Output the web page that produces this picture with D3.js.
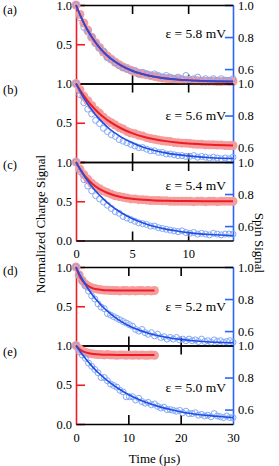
<!DOCTYPE html>
<html>
<head>
<meta charset="utf-8">
<script src="https://cdn.jsdelivr.net/npm/d3@7"></script>
<style>
  html, body { margin: 0; padding: 0; background: #fff; }
  svg { display: block; }
</style>
</head>
<body>
<svg id="chart" width="279" height="466"></svg>
<script>
// sample times (µs)
const timeShort = [0, 0.35, 0.7, 1.05, 1.4, 1.75, 2.1, 2.45, 2.8, 3.15, 3.5, 3.85, 4.2, 4.55, 4.9,
    5.25, 5.6, 5.95, 6.3, 6.65, 7.0, 7.35, 7.7, 8.05, 8.4, 8.75, 9.1, 9.45, 9.8, 10.15, 10.5,
    10.85, 11.2, 11.55, 11.9, 12.25, 12.6, 12.95, 13.3, 13.65, 14.0];
const timeLong = [0, 0.6, 1.2, 1.8, 2.4, 3.0, 3.6, 4.2, 4.8, 5.4, 6.0, 6.6, 7.2, 7.8, 8.4, 9.0,
    9.6, 10.2, 10.8, 11.4, 12.0, 12.6, 13.2, 13.8, 14.4, 15.0, 15.6, 16.2, 16.8, 17.4, 18.0,
    18.6, 19.2, 19.8, 20.4, 21.0, 21.6, 22.2, 22.8, 23.4, 24.0, 24.6, 25.2, 25.8, 26.4, 27.0,
    27.6, 28.2, 28.8, 29.4, 30.0];

// normalized charge signal (left axis)
const chargeA = [1.00, 0.88, 0.77, 0.68, 0.59, 0.52, 0.46, 0.40, 0.35, 0.31, 0.27, 0.24, 0.21, 0.19,
    0.17, 0.15, 0.13, 0.12, 0.11, 0.10, 0.09, 0.08, 0.07, 0.065, 0.06, 0.055, 0.05, 0.045, 0.04,
    0.04, 0.035, 0.035, 0.03, 0.03, 0.03, 0.03, 0.025, 0.025, 0.03, 0.025, 0.025];
const chargeB = [1.00, 0.92, 0.84, 0.78, 0.72, 0.66, 0.62, 0.57, 0.53, 0.50, 0.47, 0.44, 0.42, 0.39,
    0.37, 0.36, 0.34, 0.33, 0.31, 0.30, 0.29, 0.28, 0.27, 0.265, 0.26, 0.25, 0.245, 0.24, 0.24,
    0.235, 0.23, 0.225, 0.225, 0.22, 0.22, 0.22, 0.215, 0.215, 0.21, 0.21, 0.21];
const chargeC = [1.00, 0.91, 0.84, 0.78, 0.73, 0.69, 0.66, 0.63, 0.61, 0.59, 0.57, 0.56, 0.55, 0.54,
    0.53, 0.53, 0.52, 0.52, 0.515, 0.51, 0.51, 0.51, 0.505, 0.505, 0.50, 0.50, 0.50, 0.50, 0.50,
    0.50, 0.495, 0.50, 0.50, 0.495, 0.50, 0.50, 0.495, 0.50, 0.50, 0.50, 0.50];
const chargeD = [1.00, 0.90, 0.83, 0.78, 0.755, 0.735, 0.725, 0.715, 0.71, 0.705, 0.705, 0.70, 0.70,
    0.70, 0.695, 0.70, 0.70, 0.695, 0.70, 0.695, 0.70, 0.70, 0.695, 0.70, 0.695, 0.70];
const chargeE = [1.00, 0.96, 0.93, 0.915, 0.90, 0.895, 0.89, 0.885, 0.885, 0.88, 0.885, 0.88, 0.88,
    0.875, 0.88, 0.88, 0.875, 0.88, 0.875, 0.88, 0.875, 0.88, 0.875, 0.875, 0.88, 0.875];

// spin signal (right axis)
const spinA = [1.00, 0.92, 0.86, 0.83, 0.80, 0.76, 0.73, 0.71, 0.67, 0.66, 0.64, 0.62, 0.61, 0.60,
    0.59, 0.59, 0.57, 0.58, 0.57, 0.56, 0.57, 0.56, 0.55, 0.56, 0.55, 0.54, 0.55, 0.54, 0.56,
    0.53, 0.54, 0.55, 0.53, 0.54, 0.53, 0.54, 0.53, 0.54, 0.53, 0.53, 0.54];
const spinB = [1.00, 0.93, 0.88, 0.84, 0.81, 0.77, 0.75, 0.72, 0.70, 0.68, 0.67, 0.65, 0.64, 0.63,
    0.62, 0.61, 0.60, 0.60, 0.59, 0.58, 0.58, 0.57, 0.57, 0.56, 0.56, 0.555, 0.55, 0.55, 0.545,
    0.545, 0.55, 0.54, 0.545, 0.54, 0.535, 0.54, 0.535, 0.53, 0.535, 0.53, 0.54];
const spinC = [1.00, 0.94, 0.89, 0.85, 0.82, 0.79, 0.77, 0.75, 0.73, 0.71, 0.69, 0.68, 0.66, 0.65,
    0.64, 0.63, 0.62, 0.615, 0.61, 0.60, 0.60, 0.59, 0.585, 0.58, 0.575, 0.57, 0.565, 0.57, 0.56,
    0.555, 0.56, 0.55, 0.555, 0.55, 0.545, 0.555, 0.55, 0.545, 0.55, 0.55, 0.55];
const spinD = [1.00, 0.95, 0.91, 0.88, 0.85, 0.82, 0.80, 0.77, 0.75, 0.74, 0.71, 0.70, 0.69, 0.68,
    0.67, 0.66, 0.65, 0.64, 0.63, 0.61, 0.60, 0.61, 0.59, 0.58, 0.59, 0.57, 0.58, 0.56, 0.565,
    0.55, 0.56, 0.55, 0.56, 0.545, 0.55, 0.54, 0.55, 0.54, 0.545, 0.535, 0.55, 0.535, 0.54, 0.53,
    0.545, 0.535, 0.54, 0.53, 0.535, 0.54, 0.53];
const spinE = [1.00, 0.96, 0.94, 0.92, 0.89, 0.87, 0.85, 0.83, 0.80, 0.80, 0.78, 0.76, 0.75, 0.74,
    0.72, 0.71, 0.68, 0.68, 0.68, 0.66, 0.67, 0.65, 0.64, 0.645, 0.63, 0.635, 0.62, 0.61, 0.615,
    0.60, 0.60, 0.595, 0.59, 0.595, 0.58, 0.59, 0.575, 0.575, 0.58, 0.565, 0.57, 0.56, 0.565,
    0.555, 0.575, 0.56, 0.555, 0.55, 0.56, 0.55, 0.55];

// fitted curves
const fitTimeShort = [0, 0.5, 1, 1.5, 2, 2.5, 3, 4, 5, 6, 7, 8, 9, 10, 12, 14];
const fitChargeA = [1.0, 0.829, 0.687, 0.571, 0.474, 0.394, 0.329, 0.231, 0.163, 0.118, 0.086, 0.065, 0.051, 0.041, 0.030, 0.025];
const fitSpinA = [1.0, 0.916, 0.847, 0.790, 0.742, 0.703, 0.671, 0.623, 0.590, 0.568, 0.552, 0.542, 0.535, 0.530, 0.525, 0.522];
const fitChargeB = [1.0, 0.884, 0.786, 0.701, 0.628, 0.566, 0.514, 0.430, 0.368, 0.322, 0.290, 0.266, 0.248, 0.235, 0.219, 0.210];
const fitSpinB = [1.0, 0.933, 0.876, 0.827, 0.784, 0.748, 0.716, 0.667, 0.630, 0.602, 0.582, 0.567, 0.556, 0.548, 0.537, 0.532];
const fitChargeC = [1.0, 0.879, 0.787, 0.718, 0.665, 0.625, 0.595, 0.554, 0.531, 0.518, 0.510, 0.506, 0.503, 0.502, 0.501, 0.500];
const fitSpinC = [1.0, 0.939, 0.886, 0.840, 0.800, 0.765, 0.734, 0.685, 0.647, 0.619, 0.597, 0.581, 0.569, 0.559, 0.547, 0.540];

const fitTimeCharge = [0, 0.5, 1, 1.5, 2, 3, 4, 5, 6, 8, 10, 12, 15];
const fitChargeD = [1.0, 0.910, 0.847, 0.803, 0.772, 0.735, 0.717, 0.708, 0.704, 0.701, 0.700, 0.700, 0.700];
const fitChargeE = [1.0, 0.964, 0.939, 0.921, 0.909, 0.894, 0.887, 0.883, 0.882, 0.880, 0.880, 0.880, 0.880];
const fitTimeLong = [0, 1, 2, 3, 4, 5, 6, 8, 10, 12, 14, 16, 18, 20, 22, 25, 28, 30];
const fitSpinD = [1.0, 0.936, 0.880, 0.832, 0.791, 0.755, 0.724, 0.673, 0.635, 0.606, 0.585, 0.569, 0.557, 0.548, 0.541, 0.533, 0.529, 0.527];
const fitSpinE = [1.0, 0.953, 0.911, 0.873, 0.838, 0.808, 0.780, 0.733, 0.694, 0.663, 0.638, 0.617, 0.601, 0.587, 0.576, 0.564, 0.555, 0.550];

// labels and ticks
const panelLetters = ['(a)', '(b)', '(c)', '(d)', '(e)'];
const epsilonLabels = ['ε = 5.8 mV', 'ε = 5.6 mV', 'ε = 5.4 mV', 'ε = 5.2 mV', 'ε = 5.0 mV'];
const timeTicksShort = [0, 5, 10];
const timeTicksLong = [0, 10, 20, 30];
const chargeTicks = [0, 0.5, 1.0];
const spinTicks = [0.6, 0.8, 1.0];

const RED = '#ee1c24';
const PINK = '#f59c9c';
const BLUE = '#1d4fe6';
const LIGHT_BLUE = '#85a8f6';
const AXIS_BLUE = '#2a66f4';
const FONT = "'Liberation Serif'";

const PLOT_LEFT = 76;
const PLOT_RIGHT = 233;
const PANEL_H = 78.5;
const SPIN_MIN = 0.51;

const groups = [
    { top: 5, domain: [0, 14], ticks: timeTicksShort, rows: 3 },
    { top: 267, domain: [0, 30], ticks: timeTicksLong, rows: 2 }
];

// per-panel text placement (baseline offset from panel top)
const letterOffset = [9, 10, 6.5, 8, 10.5];
const epsOffset = [33, 36, 27.5, 44, 46.5];

const panels = [
    { group: 0, row: 0, tc: timeShort, charge: chargeA, spin: spinA, ft: fitTimeShort, fc: fitChargeA, fst: fitTimeShort, fs: fitSpinA },
    { group: 0, row: 1, tc: timeShort, charge: chargeB, spin: spinB, ft: fitTimeShort, fc: fitChargeB, fst: fitTimeShort, fs: fitSpinB },
    { group: 0, row: 2, tc: timeShort, charge: chargeC, spin: spinC, ft: fitTimeShort, fc: fitChargeC, fst: fitTimeShort, fs: fitSpinC },
    { group: 1, row: 0, tc: timeLong, charge: chargeD, spin: spinD, ft: fitTimeCharge, fc: fitChargeD, fst: fitTimeLong, fs: fitSpinD },
    { group: 1, row: 1, tc: timeLong, charge: chargeE, spin: spinE, ft: fitTimeCharge, fc: fitChargeE, fst: fitTimeLong, fs: fitSpinE }
];

const svg = d3.select('#chart');
const fmt1 = d3.format('.1f');

function styleAxis(g, color) {
    g.attr('font-family', null).attr('font-size', null);
    g.select('.domain').attr('stroke', color).attr('stroke-width', 1.6);
    g.selectAll('.tick line').attr('stroke', color).attr('stroke-width', 1.6);
    g.selectAll('.tick text').attr('fill', '#000')
        .style('font-family', FONT).style('font-size', '12.5px');
}

function drawPanel(p, i) {
    const grp = groups[p.group];
    const top = grp.top + p.row * PANEL_H;
    const bottom = top + PANEL_H;
    const isBottom = p.row === grp.rows - 1;
    const innerTicks = grp.ticks.filter(t => t > grp.domain[0] && t < grp.domain[1]);

    const x = d3.scaleLinear().domain(grp.domain).range([PLOT_LEFT, PLOT_RIGHT]);
    const yCharge = d3.scaleLinear().domain([0, 1]).range([bottom, top]);
    const ySpin = d3.scaleLinear().domain([SPIN_MIN, 1]).range([bottom, top]);

    const g = svg.append('g');

    // left (charge) axis
    g.append('g')
        .attr('transform', `translate(${PLOT_LEFT},0)`)
        .call(d3.axisLeft(yCharge).tickValues(chargeTicks).tickSizeInner(-9).tickSizeOuter(0)
            .tickPadding(4).tickFormat(d => (d === 0 && !isBottom) ? '' : fmt1(d)))
        .call(a => styleAxis(a, RED));

    // right (spin) axis
    g.append('g')
        .attr('transform', `translate(${PLOT_RIGHT},0)`)
        .call(d3.axisRight(ySpin).tickValues(spinTicks).tickSizeInner(-8).tickSizeOuter(0)
            .tickPadding(5).tickFormat(fmt1))
        .call(a => styleAxis(a, AXIS_BLUE));

    // top edge
    g.append('g')
        .attr('transform', `translate(0,${top})`)
        .call(d3.axisBottom(x).tickValues(innerTicks).tickSizeInner(9).tickSizeOuter(0).tickFormat(''))
        .call(a => styleAxis(a, '#000'));

    // bottom edge
    g.append('g')
        .attr('transform', `translate(0,${bottom})`)
        .call(d3.axisBottom(x).tickValues(isBottom ? grp.ticks : innerTicks).tickSizeInner(-9)
            .tickSizeOuter(0).tickPadding(9).tickFormat(isBottom ? d3.format('d') : ''))
        .call(a => styleAxis(a, '#000'))
        .call(a => a.selectAll('.tick line')
            .attr('opacity', d => (d === grp.domain[0] || d === grp.domain[1]) ? 0 : 1));

    // charge markers
    g.append('g').selectAll('circle')
        .data(p.charge)
        .join('circle')
        .attr('cx', (d, k) => x(p.tc[k]))
        .attr('cy', d => yCharge(d))
        .attr('r', 4.5)
        .attr('fill', PINK);

    // spin markers
    g.append('g').selectAll('circle')
        .data(p.spin)
        .join('circle')
        .attr('cx', (d, k) => x(p.tc[k]))
        .attr('cy', d => ySpin(d))
        .attr('r', 3)
        .attr('fill', 'none')
        .attr('stroke', LIGHT_BLUE)
        .attr('stroke-width', 1);

    const chargeLine = d3.line()
        .x((d, k) => x(p.ft[k]))
        .y(d => yCharge(d))
        .curve(d3.curveMonotoneX);
    g.append('path')
        .attr('d', chargeLine(p.fc))
        .attr('fill', 'none')
        .attr('stroke', RED)
        .attr('stroke-width', 2);

    const spinLine = d3.line()
        .x((d, k) => x(p.fst[k]))
        .y(d => ySpin(d))
        .curve(d3.curveMonotoneX);
    g.append('path')
        .attr('d', spinLine(p.fs))
        .attr('fill', 'none')
        .attr('stroke', BLUE)
        .attr('stroke-width', 1.6);

    g.append('text')
        .attr('x', 3)
        .attr('y', top + letterOffset[i])
        .style('font-family', FONT)
        .style('font-size', '12.5px')
        .text(panelLetters[i]);

    g.append('text')
        .attr('x', 226)
        .attr('y', top + epsOffset[i])
        .attr('text-anchor', 'end')
        .style('font-family', FONT)
        .style('font-size', '13.5px')
        .text(epsilonLabels[i]);

    if (isBottom && p.group === 1) {
        g.append('text')
            .attr('x', (PLOT_LEFT + PLOT_RIGHT) / 2)
            .attr('y', bottom + 39)
            .attr('text-anchor', 'middle')
            .style('font-family', FONT)
            .style('font-size', '13px')
            .text('Time (µs)');
    }
}

panels.forEach(drawPanel);

svg.append('text')
    .attr('transform', 'translate(45,224) rotate(-90)')
    .attr('text-anchor', 'middle')
    .style('font-family', FONT)
    .style('font-size', '13px')
    .text('Normalized Charge Signal');

svg.append('text')
    .attr('transform', 'translate(255,243) rotate(90)')
    .attr('text-anchor', 'middle')
    .style('font-family', FONT)
    .style('font-size', '13px')
    .text('Spin Signal');
</script>
</body>
</html>
